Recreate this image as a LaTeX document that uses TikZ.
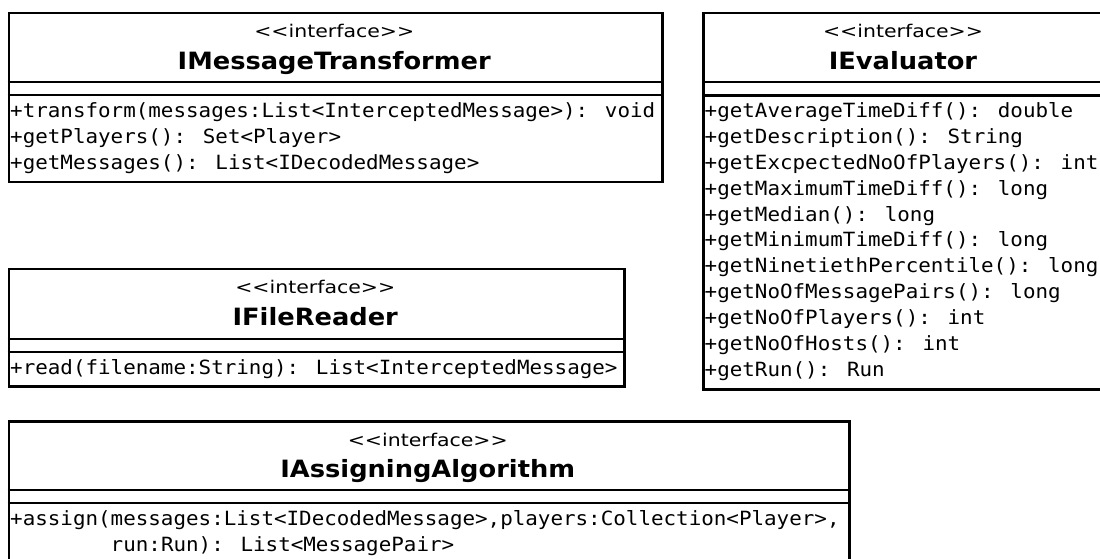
\documentclass[tikz,border=0pt]{standalone}
\usepackage{fontspec}
\newfontfamily\memfont[FakeStretch=1.065]{DejaVu Sans Mono}
\newfontfamily\titfont[FakeStretch=1.08]{DejaVu Sans}
\newfontfamily\stfont[FakeStretch=1.17]{DejaVu Sans}
\tikzset{
  umlbox/.style={draw, line width=2.5bp, inner sep=0pt, anchor=north west},
  sepline/.style={line width=2.5bp},
  member/.style={anchor=base west, inner sep=0pt, font=\memfont\fontsize{19.6bp}{22bp}\selectfont},
  stereo/.style={anchor=base, inner sep=0pt, font=\stfont\fontsize{17.5bp}{20bp}\selectfont},
  ctitle/.style={anchor=base, inner sep=0pt, font=\titfont\bfseries\fontsize{23.8bp}{26bp}\selectfont},
}
\begin{document}
\begin{tikzpicture}[x=1bp,y=-1bp]
\useasboundingbox (0,0) rectangle (1100,559);
\clip (0,0) rectangle (1100,559);
\fill[white] (0,0) rectangle (1100,559);

% IMessageTransformer
\node[umlbox, minimum width=653.5bp, minimum height=169bp] (b1) at (7.5,12) {};
\draw[sepline] (7.5,82) -- (661,82);
\draw[sepline] (7.5,95) -- (661,95);
\node[stereo] (b1s) at (334.25,38) {<<interface>>};
\node[ctitle] (b1t) at (334.25,69.5) {IMessageTransformer};
\foreach [count=\i] \t in {{+transform(messages:List<InterceptedMessage>): void},{+getPlayers(): Set<Player>},{+getMessages(): List<IDecodedMessage>}}
  \node[member] (b1m\i) at (10,{117.5+25.8*(\i-1)}) {\t};

% IEvaluator
\node[umlbox, minimum width=420bp, minimum height=376bp] (b2) at (702,12) {};
\draw[sepline] (702,82) -- (1110,82);
\draw[sepline] (702,95.5) -- (1110,95.5);
\node[stereo] (b2s) at (903,38) {<<interface>>};
\node[ctitle] (b2t) at (903,69.5) {IEvaluator};
\foreach [count=\i] \t in {{+getAverageTimeDiff(): double},{+getDescription(): String},{+getExcpectedNoOfPlayers(): int},{+getMaximumTimeDiff(): long},{+getMedian(): long},{+getMinimumTimeDiff(): long},{+getNinetiethPercentile(): long},{+getNoOfMessagePairs(): long},{+getNoOfPlayers(): int},{+getNoOfHosts(): int},{+getRun(): Run}}
  \node[member] (b2m\i) at (704.5,{118+25.8*(\i-1)}) {\t};

% IFileReader
\node[umlbox, minimum width=615.5bp, minimum height=117bp] (b3) at (7.5,268) {};
\draw[sepline] (7.5,339) -- (623,339);
\draw[sepline] (7.5,352) -- (623,352);
\node[stereo] (b3s) at (315.25,294) {<<interface>>};
\node[ctitle] (b3t) at (315.25,325.5) {IFileReader};
\node[member] (b3m1) at (10,374.5) {+read(filename:String): List<InterceptedMessage>};

% IAssigningAlgorithm
\node[umlbox, minimum width=840.5bp, minimum height=145bp] (b4) at (7.5,420) {};
\draw[sepline] (7.5,490) -- (848,490);
\draw[sepline] (7.5,503) -- (848,503);
\node[stereo] (b4s) at (427.75,446) {<<interface>>};
\node[ctitle] (b4t) at (427.75,477.5) {IAssigningAlgorithm};
\node[member] (b4m1) at (10,525.5) {+assign(messages:List<IDecodedMessage>,players:Collection<Player>,};
\node[member] (b4m2) at (10,551.3) {\phantom{+assign(}run:Run): List<MessagePair>};
\end{tikzpicture}
\end{document}
